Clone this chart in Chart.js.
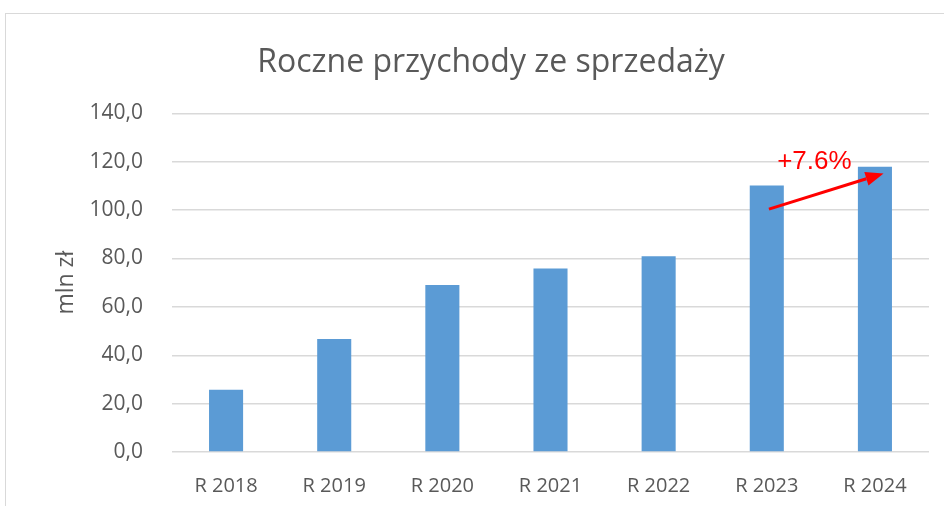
<!DOCTYPE html>
<html>
<head>
<meta charset="utf-8">
<script src="https://cdn.jsdelivr.net/npm/chart.js@4"></script>
<style>
  html, body { margin: 0; padding: 0; background: #fff; }
  #wrap { position: relative; width: 944px; height: 506px; overflow: hidden; }
  #frame { position: absolute; left: 5px; top: 13px; width: 960px; height: 520px; border: 1px solid #d9d9d9; box-sizing: border-box; }
  canvas { position: absolute; left: 0; top: 0; }
</style>
</head>
<body>
<div id="wrap">
  <div id="frame"></div>
  <canvas id="chart" width="944" height="506"></canvas>
</div>
<script>
// dane
const years = ['R 2018', 'R 2019', 'R 2020', 'R 2021', 'R 2022', 'R 2023', 'R 2024'];
const revenue = [25.7, 46.7, 69.0, 75.9, 80.9, 110.2, 117.9];
const growthLabel = '+7.6%';

// strzałka od słupka 2023 do 2024 (indeks kategorii, wartość)
const arrowFrom = [5.02, 100.4];
const arrowTo = [6.08, 115.2];
const labelAt = [5.44, 119.8];

const arrowPlugin = {
  id: 'arrow',
  afterDatasetsDraw(chart) {
    const { ctx, scales: { x, y } } = chart;
    const x1 = x.getPixelForValue(arrowFrom[0]), y1 = y.getPixelForValue(arrowFrom[1]);
    const x2 = x.getPixelForValue(arrowTo[0]), y2 = y.getPixelForValue(arrowTo[1]);
    const ang = Math.atan2(y2 - y1, x2 - x1);
    const head = 18, half = 7;
    const bx = x2 - head * Math.cos(ang), by = y2 - head * Math.sin(ang);
    ctx.save();
    ctx.strokeStyle = '#ff0000';
    ctx.fillStyle = '#ff0000';
    ctx.lineWidth = 3;
    ctx.beginPath();
    ctx.moveTo(x1, y1);
    ctx.lineTo(bx, by);
    ctx.stroke();
    ctx.beginPath();
    ctx.moveTo(x2, y2);
    ctx.lineTo(bx + half * Math.sin(ang), by - half * Math.cos(ang));
    ctx.lineTo(bx - half * Math.sin(ang), by + half * Math.cos(ang));
    ctx.closePath();
    ctx.fill();
    ctx.font = '26px "Liberation Sans", Arial, sans-serif';
    ctx.textAlign = 'center';
    ctx.textBaseline = 'middle';
    ctx.fillText(growthLabel, x.getPixelForValue(labelAt[0]), y.getPixelForValue(labelAt[1]));
    ctx.restore();
  }
};

new Chart(document.getElementById('chart').getContext('2d'), {
  type: 'bar',
  data: {
    labels: years,
    datasets: [{
      label: 'Przychody',
      data: revenue,
      backgroundColor: '#5b9bd5',
      categoryPercentage: 1,
      barPercentage: 0.315
    }]
  },
  options: {
    responsive: false,
    animation: false,
    layout: { padding: { left: 53, right: 15, top: 44, bottom: 0 } },
    plugins: {
      legend: { display: false },
      tooltip: { enabled: false },
      title: {
        display: true,
        text: 'Roczne przychody ze sprzedaży',
        color: '#595959',
        font: { family: '"Open Sans", sans-serif', size: 32, weight: 'normal' },
        padding: { top: 0, bottom: 31 }
      }
    },
    scales: {
      x: {
        grid: { display: false },
        border: { display: false },
        ticks: {
          color: '#595959',
          font: { family: '"Open Sans", sans-serif', size: 20 },
          padding: 14
        },
        afterFit(scale) { scale.height = 54; }
      },
      y: {
        min: 0,
        max: 140,
        grid: { color: '#d9d9d9', lineWidth: 1.5, drawTicks: false },
        border: { display: false },
        ticks: {
          stepSize: 20,
          color: '#595959',
          font: { family: '"Open Sans", sans-serif', size: 21 },
          padding: 29,
          callback: v => v.toFixed(1).replace('.', ',')
        },
        title: {
          display: true,
          text: 'mln zł',
          color: '#595959',
          font: { family: '"Open Sans", sans-serif', size: 23 },
          padding: { top: 0, bottom: 0 }
        },
        afterFit(scale) { scale.width = 119; }
      }
    }
  },
  plugins: [arrowPlugin]
});
</script>
</body>
</html>
